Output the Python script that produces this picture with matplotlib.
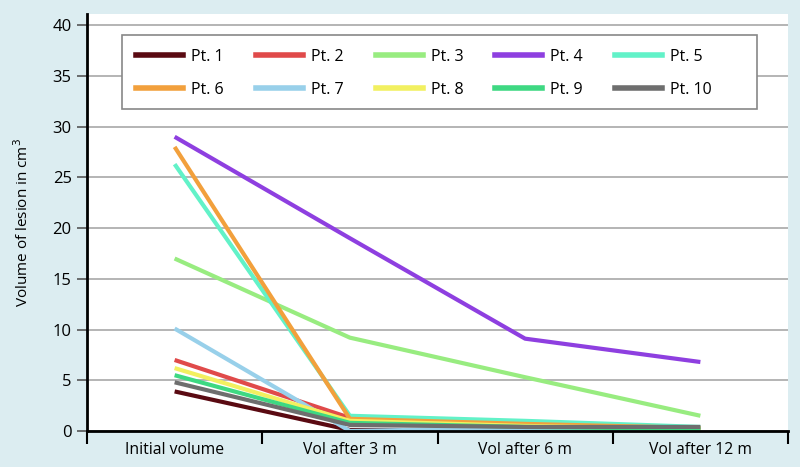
import matplotlib.pyplot as plt
from matplotlib.lines import Line2D
from matplotlib.patches import Rectangle

categories = ['Initial volume', 'Vol after 3 m', 'Vol after 6 m', 'Vol after 12 m']
patients = ['Pt. 1', 'Pt. 2', 'Pt. 3', 'Pt. 4', 'Pt. 5',
            'Pt. 6', 'Pt. 7', 'Pt. 8', 'Pt. 9', 'Pt. 10']
pt1 = [3.9, 0.1, 0.1, 0.1]
pt2 = [7.0, 1.3, 0.6, 0.3]
pt3 = [17.0, 9.2, 5.3, 1.5]
pt4 = [29.0, 19.0, 9.1, 6.8]
pt5 = [26.3, 1.5, 1.0, 0.4]
pt6 = [28.0, 1.2, 0.7, 0.3]
pt7 = [10.1, 0.0, 0.3, 0.1]
pt8 = [6.2, 1.0, 0.5, 0.2]
pt9 = [5.5, 0.8, 0.4, 0.2]
pt10 = [4.8, 0.6, 0.4, 0.4]
series = [pt1, pt2, pt3, pt4, pt5, pt6, pt7, pt8, pt9, pt10]
colors = ['#5a0a12', '#e04a4a', '#98ec80', '#8e3fe0', '#62f2c8',
          '#f2a03c', '#98d0ea', '#f2f060', '#3ed882', '#6e6e6e']

plt.rcParams['font.family'] = ['Open Sans', 'DejaVu Sans']

fig = plt.figure(figsize=(8, 4.67), dpi=100)
fig.patch.set_facecolor('#dcedf1')
ax = fig.add_axes([87 / 800, 36 / 467, 701 / 800, 417 / 467])
ax.set_facecolor('white')

x = list(range(len(categories)))
for name, vals, c in zip(patients, series, colors):
    ax.plot(x, vals, color=c, lw=3, solid_capstyle='butt', label=name)

ax.set_xlim(-0.5, 3.5)
ax.set_ylim(0, 41.1)
ax.set_yticks(range(0, 41, 5))
ax.set_xticks([-0.5, 0.5, 1.5, 2.5, 3.5])
ax.set_xticklabels([])
ax.set_xticks(x, minor=True)
ax.set_xticklabels(categories, minor=True)
ax.tick_params(axis='x', which='minor', length=0, pad=8, labelsize=11.3)
ax.tick_params(axis='x', which='major', length=9, width=1.5, color='black')
ax.tick_params(axis='y', length=7, width=1.2, color='#555555', labelsize=12, pad=4)
ax.yaxis.grid(True, color='#a8a8a8', lw=1.2)
ax.set_axisbelow(True)
for s in ['top', 'right']:
    ax.spines[s].set_visible(False)
ax.spines['left'].set_linewidth(2)
ax.spines['bottom'].set_linewidth(2)
ax.set_ylabel('Volume of lesion in cm$^3$', fontsize=11, labelpad=15)

# legend box (wider than its entries, as in the original)
box = Rectangle((0.0499, 0.772), 0.906, 0.1775, transform=ax.transAxes,
                facecolor='white', edgecolor='#888888', lw=1.2, zorder=4)
ax.add_patch(box)

# legend filled row by row
handles = [Line2D([], [], color=c, lw=4) for c in colors]
order = [0, 5, 1, 6, 2, 7, 3, 8, 4, 9]
leg = ax.legend([handles[i] for i in order], [patients[i] for i in order],
                ncol=5, loc='upper left', bbox_to_anchor=(0.0499, 0.951),
                borderaxespad=0, frameon=False, fontsize=11.5,
                handlelength=2.95, handletextpad=0.5, columnspacing=2.0,
                labelspacing=1.05, borderpad=0.9)
leg.set_zorder(5)

fig.savefig('out.png', dpi=100, facecolor=fig.get_facecolor())
